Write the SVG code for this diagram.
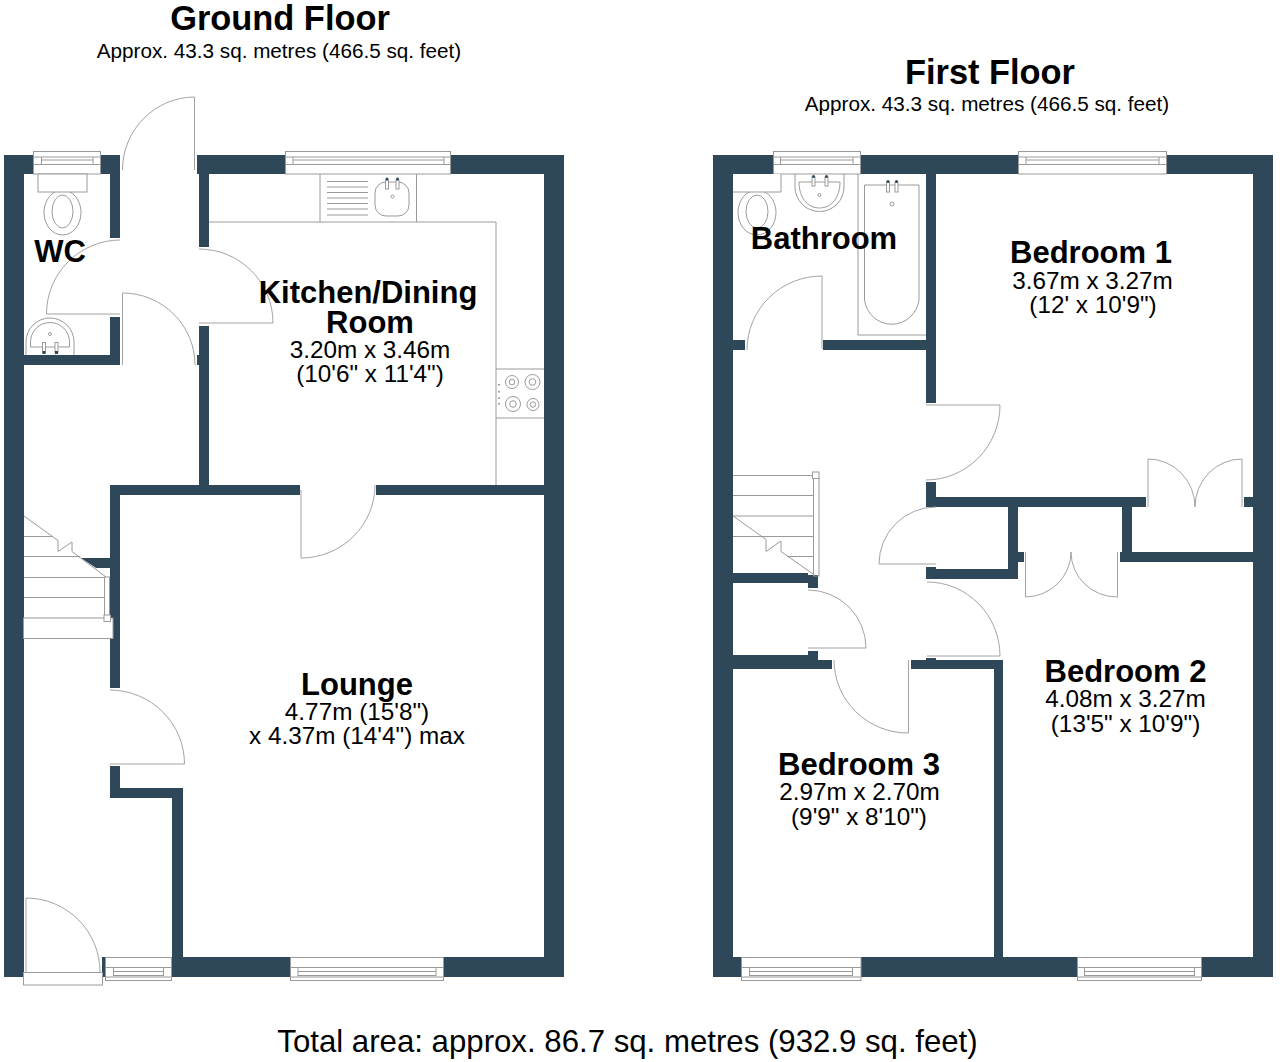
<svg xmlns="http://www.w3.org/2000/svg" width="1280" height="1062" viewBox="0 0 1280 1062">
<defs>
<path id="wtop" d="M0 5.500H1M0 13H1"/>
</defs>
<style>
.w{fill:#2e4859}
.l{fill:none;stroke:#9a9a9a;stroke-width:1}
.f{fill:#fff;stroke:#9a9a9a;stroke-width:1}
.d{fill:none;stroke:#a3a3a3;stroke-width:1}
.t{fill:#2e4859}
text{font-family:"Liberation Sans",Arial,sans-serif;text-anchor:middle;fill:#000}
.h{font-size:34.400px;font-weight:bold}
.s{font-size:20.700px}
.n{font-size:31px;font-weight:bold}
.m{font-size:24.300px}
.a{font-size:31.200px}
</style>
<rect width="1280" height="1062" fill="#fff"/>
<g id="ground-walls">
<path class="w" d="M4 155H33V174H24V977H4Z"/>
<rect class="w" x="102" y="957" width="4" height="20"/>
<path class="w" d="M101 155H120V238H110V174H101Z"/>
<path class="w" d="M110 317H120V365H24V355H110Z"/>
<path class="w" d="M197 155H285V174H209V247H199V174H197Z"/>
<rect class="w" x="197" y="355" width="2" height="10"/>
<path class="w" d="M199 326H209V485H300V495H120V688H110V485H199Z"/>
<path class="w" d="M81 558H110V568H96Z"/>
<path class="w" d="M110 766H120V788H183V957H290V977H172V798H110Z"/>
<path class="w" d="M451 155H564V977H443V957H544V495H376V485H544V174H451Z"/>
</g>
<g id="first-walls">
<path class="w" d="M713 155H773V174H733V957H741V977H713Z"/>
<rect class="w" x="733" y="573" width="75" height="10"/>
<rect class="w" x="808" y="575" width="10" height="13"/>
<path class="w" d="M733 655H808V651H818V660H832V669H733Z"/>
<path class="w" d="M861 155H1018V174H936V403H926V350H823V340H926V174H861Z"/>
<path class="w" d="M733 340H745V350H733Z"/>
<path class="w" d="M1167 155H1273V977H1202V957H1253V507H1244V497H1253V174H1167Z"/>
<path class="w" d="M926 482H936V497H1146V507H1018V579H926V567H936V569H1008V507H926Z"/>
<path class="w" d="M1122 507H1132V552H1253V562H1120V552H1122Z"/>
<path class="w" d="M1018 552H1024V562H1018Z"/>
<path class="w" d="M911 660H926V658H936V660H1003V957H1077V977H861V957H994V669H911Z"/>
</g>
<g id="ground-windows">
<rect class="f" x="33.500" y="151.500" width="67" height="22.500"/><path class="l" d="M33 157H101M33 164.500H101M41.500 157V164.500M93 157V164.500M41.500 160H93"/>
<rect class="f" x="285.500" y="151.500" width="165" height="22.500"/><path class="l" d="M285 157H451M285 164.500H451M293 157V164.500M444 157V164.500M293 160H444"/>
<rect class="f" x="105.500" y="957.500" width="66" height="23"/><path class="l" d="M105 967.500H171M105 977H171M113.500 967.500V976M163.500 967.500V976M113.500 971.500H163.500M113.500 975.500H163.500"/>
<rect class="f" x="290.500" y="957.500" width="153" height="23"/><path class="l" d="M290 967.500H443M290 977H443M298 967.500V976M436 967.500V976M298 971.500H436M298 975.500H436"/>
</g>
<g id="first-windows">
<rect class="f" x="773.500" y="151.500" width="87" height="22.500"/><path class="l" d="M773 157H861M773 164.500H861M780.500 157V164.500M853 157V164.500M780.500 160H853"/>
<rect class="f" x="1018.500" y="151.500" width="148" height="22.500"/><path class="l" d="M1018 157H1167M1018 164.500H1167M1026 157V164.500M1159 157V164.500M1026 160H1159"/>
<rect class="f" x="741.500" y="957.500" width="119.500" height="23"/><path class="l" d="M741 967.500H861M741 977H861M749.500 967.500V976M852.500 967.500V976M749.500 971.500H852.500M749.500 975.500H852.500"/>
<rect class="f" x="1077.500" y="957.500" width="124" height="23"/><path class="l" d="M1077 967.500H1202M1077 977H1202M1084.500 967.500V976M1194.500 967.500V976M1084.500 971.500H1194.500M1084.500 975.500H1194.500"/>
</g>
<g id="doors">
<path class="d" d="M122.500 170A72.500 73 0 0 1 194.500 97V170"/>
<path class="d" d="M120 240A74 74 0 0 0 46.500 314H120"/>
<path class="d" d="M199 249A74 74 0 0 1 273 323H199"/>
<path class="d" d="M122.500 365V293A72.500 72 0 0 1 195 365"/>
<path class="d" d="M375 485A74 73 0 0 1 301 558V490"/>
<path class="d" d="M110 690A75 74 0 0 1 184.500 764H110"/>
<path class="d" d="M26 972V898A74 74 0 0 1 100 972"/>
<path class="d" d="M747 350A75 74 0 0 1 822 276V349"/>
<path class="d" d="M926 405H1000A74 75 0 0 1 926 480"/>
<path class="d" d="M936 507A57 57 0 0 0 879 564H936"/>
<path class="d" d="M927 582A73 74 0 0 1 1000 656H927"/>
<path class="d" d="M808 590A58 58 0 0 1 866 648H808"/>
<path class="d" d="M834 660A74 73 0 0 0 908.500 733V660"/>
<path class="d" d="M1148 507V459A47 48 0 0 1 1195 507A47 48 0 0 1 1242 459V507"/>
<path class="d" d="M1025.500 552V597A46 45 0 0 0 1071 552A46 45 0 0 0 1117.500 597V552"/>
</g>
<g id="ground-fixtures">
<ellipse class="l" cx="62.500" cy="212.500" rx="18.500" ry="22.500"/><ellipse class="l" cx="62.500" cy="211.500" rx="10.500" ry="16.500"/>
<rect class="f" x="38" y="174" width="49" height="18"/>
<path class="l" d="M26 355V342A24 24 0 0 1 74 342V355M30.500 347V342A19.500 19.500 0 0 1 69.500 342V347Z"/><circle class="l" cx="50" cy="334" r="1.500"/>
<rect class="f" x="42.500" y="342.500" width="3" height="10"/><rect class="f" x="55" y="342.500" width="3" height="10"/><rect class="t" x="42.500" y="351" width="3" height="3"/><rect class="t" x="55" y="351" width="3" height="3"/>
<path class="l" d="M320 174V222M416.500 174V222M209 222H496V485"/>
<path class="l" d="M327 181.500H368M327 187H368M327 192.500H368M327 198H368M327 203.500H368M327 209H368M327 215H368"/>
<rect class="l" x="375" y="182" width="34" height="34" rx="11"/><circle class="l" cx="392.500" cy="196.500" r="1.500"/>
<rect class="f" x="385.500" y="180" width="3" height="9"/><rect class="f" x="396" y="180" width="3" height="9"/><circle class="t" cx="387" cy="179" r="1.500"/><circle class="t" cx="397.500" cy="179" r="1.500"/>
<path class="l" d="M496 369H544M496 418H544"/>
<circle class="l" cx="512" cy="382" r="6.500"/><circle class="l" cx="512" cy="382" r="2.800"/><circle class="l" cx="532.500" cy="382" r="7.500"/><circle class="l" cx="532.500" cy="382" r="3.300"/>
<circle class="l" cx="513" cy="404" r="7.500"/><circle class="l" cx="513" cy="404" r="3.300"/><circle class="l" cx="533" cy="404.500" r="6"/><circle class="l" cx="533" cy="404.500" r="2.700"/>
<path d="M499 384V385.500M499 391V392.500M499 397.500V399M499 403V404.500" stroke="#999" stroke-width="2"/>
<path class="l" d="M24 516L58 540.500V551.500L72 542V551.500L106 577"/>
<path class="l" d="M24 536.500H52M24 556.500H80M24 577.500H104M24 597.500H104"/>
<rect class="f" x="23.500" y="618" width="89.500" height="20.500"/>
<rect class="l" x="104.500" y="577" width="5" height="41"/><rect class="f" x="104" y="615" width="6.500" height="6.500"/>
<rect class="f" x="23.500" y="972.500" width="79" height="12.500"/>
</g>
<g id="first-fixtures">
<ellipse class="l" cx="757" cy="212.500" rx="19" ry="22.500"/><ellipse class="l" cx="757" cy="211.500" rx="11" ry="16.500"/>
<rect fill="#fff" x="733" y="174" width="48" height="18"/>
<path class="l" d="M733 192H781V174"/>
<path class="l" d="M795 174V187A24.500 24.500 0 0 0 844 187V174M799 182H840C840 197 832 208 819.500 208S799 197 799 182Z"/><circle class="l" cx="819.500" cy="195" r="1.500"/>
<rect class="f" x="812" y="177" width="3" height="9"/><rect class="f" x="825" y="177" width="3" height="9"/><circle class="t" cx="813.500" cy="176.500" r="1.500"/><circle class="t" cx="826.500" cy="176.500" r="1.500"/>
<path class="l" d="M858 174V335H926"/>
<path class="l" d="M864.500 185H919V300A27.500 28 0 0 1 864.500 300Z"/><circle class="l" cx="892" cy="204" r="2"/>
<rect class="f" x="886.500" y="182" width="3" height="10"/><rect class="f" x="895" y="182" width="3" height="10"/><circle class="t" cx="888" cy="181.500" r="1.500"/><circle class="t" cx="896.500" cy="181.500" r="1.500"/>
<path class="l" d="M733 516L766 539.500V551.500L781 541V551.500L813 574"/>
<path class="l" d="M733 475.500H812M733 495.500H813M733 516H813M733 536.500H765M787 556.500H813M733 536.500H813"/>
<rect class="l" x="813.500" y="478" width="5.500" height="98"/><rect class="f" x="812.500" y="472" width="6.500" height="6.500"/>
</g>
<g id="labels">
<text class="h" x="280" y="30">Ground Floor</text>
<text class="s" x="279" y="58">Approx. 43.3 sq. metres (466.5 sq. feet)</text>
<text class="h" x="990" y="84">First Floor</text>
<text class="s" x="987" y="111">Approx. 43.3 sq. metres (466.5 sq. feet)</text>
<text class="n" x="60" y="262">WC</text>
<text class="n" x="368" y="303">Kitchen/Dining</text>
<text class="n" x="370" y="333">Room</text>
<text class="m" x="370" y="358">3.20m x 3.46m</text>
<text class="m" x="370" y="382">(10'6" x 11'4")</text>
<text class="n" x="357" y="695">Lounge</text>
<text class="m" x="357" y="720">4.77m (15'8")</text>
<text class="m" x="357" y="744">x 4.37m (14'4") max</text>
<text class="n" x="824" y="249">Bathroom</text>
<text class="n" x="1091" y="263">Bedroom 1</text>
<text class="m" x="1092.500" y="289">3.67m x 3.27m</text>
<text class="m" x="1093" y="313">(12' x 10'9")</text>
<text class="n" x="1125.500" y="682">Bedroom 2</text>
<text class="m" x="1125.500" y="707">4.08m x 3.27m</text>
<text class="m" x="1125.500" y="732">(13'5" x 10'9")</text>
<text class="n" x="859" y="775">Bedroom 3</text>
<text class="m" x="859.500" y="800">2.97m x 2.70m</text>
<text class="m" x="859" y="825">(9'9" x 8'10")</text>
<text class="a" x="627.500" y="1052">Total area: approx. 86.7 sq. metres (932.9 sq. feet)</text>
</g>
</svg>
